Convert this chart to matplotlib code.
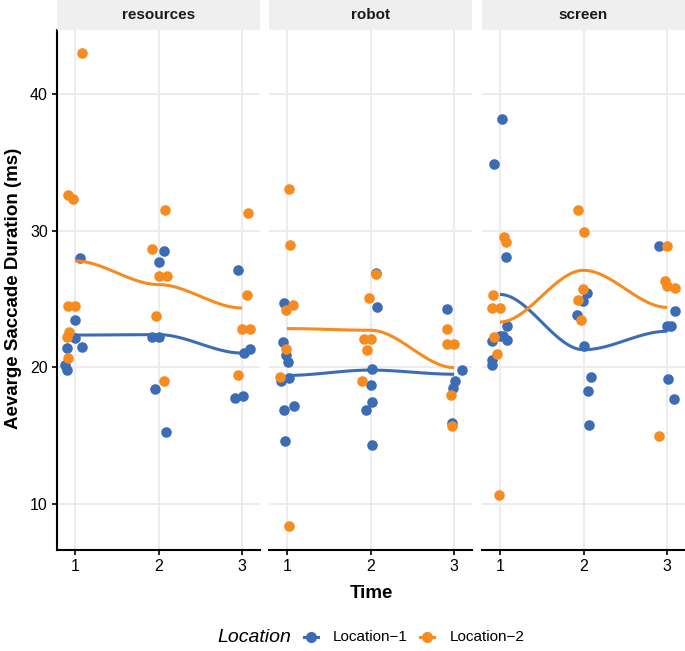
import numpy as np
import matplotlib
matplotlib.use("Agg")
import matplotlib.pyplot as plt
from matplotlib.lines import Line2D
from matplotlib.patches import Rectangle

plt.rcParams['font.family'] = ['Liberation Sans', 'DejaVu Sans']

panels = ["resources", "robot", "screen"]
locations = ["Location\u22121", "Location\u22122"]
colors = ["#3C6DB4", "#F68B1F"]

# jittered time positions and saccade durations
res_t1 = [1.06, 1.00, 1.00, 1.08, 0.90, 0.88, 0.90, 2.07, 2.01, 1.92, 2.00, 1.96, 2.09, 2.95, 3.02, 3.10, 2.92, 3.01]
res_v1 = [28.05, 23.5, 22.15, 21.5, 21.4, 20.2, 19.8, 28.56, 27.7, 22.2, 22.2, 18.44, 15.3, 27.15, 21.05, 21.37, 17.76, 17.93]
res_t2 = [1.08, 0.92, 0.98, 0.92, 1.00, 0.93, 0.90, 0.92, 2.08, 1.92, 2.00, 2.10, 1.97, 2.07, 3.07, 3.06, 3.00, 3.09, 2.95]
res_v2 = [43.0, 32.6, 32.3, 24.5, 24.5, 22.6, 22.2, 20.7, 31.5, 28.7, 26.7, 26.7, 23.8, 19.0, 31.3, 25.3, 22.85, 22.85, 19.45]

rob_t1 = [0.96, 0.95, 0.99, 1.01, 0.93, 1.02, 0.96, 1.08, 0.98, 2.07, 2.08, 2.02, 2.00, 2.02, 1.95, 2.02, 2.91, 3.10, 3.01, 2.99, 2.98]
rob_v1 = [24.7, 21.85, 20.93, 20.4, 18.98, 19.22, 16.85, 17.2, 14.6, 26.95, 24.46, 19.9, 18.68, 17.46, 16.85, 14.34, 24.3, 19.83, 18.98, 18.5, 15.9]
rob_t2 = [1.02, 1.04, 1.07, 0.99, 0.99, 0.92, 1.03, 2.06, 1.98, 1.92, 2.00, 1.96, 1.90, 2.92, 2.91, 3.00, 2.96, 2.98]
rob_v2 = [33.1, 28.93, 24.6, 24.2, 21.37, 19.3, 8.41, 26.85, 25.07, 22.07, 22.07, 21.3, 18.98, 22.85, 21.7, 21.7, 18.0, 15.68]

scr_t1 = [1.03, 0.93, 1.07, 1.08, 1.00, 1.04, 0.91, 1.09, 0.90, 0.91, 2.04, 1.99, 1.92, 2.00, 2.09, 2.05, 2.07, 2.90, 3.10, 3.00, 3.05, 3.01, 3.08]
scr_v1 = [38.2, 34.9, 28.1, 23.05, 22.27, 22.27, 21.9, 22.0, 20.56, 20.2, 25.44, 24.9, 23.85, 21.6, 19.27, 18.24, 15.76, 28.9, 24.15, 23.0, 23.0, 19.17, 17.68]
scr_t2 = [1.05, 1.07, 0.92, 0.91, 1.00, 0.93, 0.96, 0.99, 1.93, 2.00, 1.99, 1.93, 1.97, 3.00, 2.98, 3.00, 3.10, 2.90]
scr_v2 = [29.54, 29.22, 25.27, 24.34, 24.34, 22.22, 21.0, 10.68, 31.54, 29.9, 25.73, 24.95, 23.44, 28.9, 26.3, 25.93, 25.85, 15.0]

series = {
    "resources": [(res_t1, res_v1), (res_t2, res_v2)],
    "robot": [(rob_t1, rob_v1), (rob_t2, rob_v2)],
    "screen": [(scr_t1, scr_v1), (scr_t2, scr_v2)],
}

W, H = 685, 651
fig = plt.figure(figsize=(W / 100, H / 100), dpi=100)

def fx(px):
    return px / W

def fy(py):
    return 1 - py / H

panel_x = [(57, 260), (269, 472), (482, 685)]
top, bot = 30, 550
grid_c = "#EBEBEB"


def smooth(t, v):
    # smooth curve through the mean at each time point
    t = np.asarray(t)
    v = np.asarray(v)
    g = np.round(t)
    m = np.array([v[g == k].mean() for k in (1, 2, 3)])
    xs, ys = [], []
    for k in range(2):
        s = np.linspace(0, 1, 40)
        xs.append(1 + k + s)
        ys.append(m[k] + (m[k + 1] - m[k]) * (3 * s**2 - 2 * s**3))
    return np.concatenate(xs), np.concatenate(ys)


for i, name in enumerate(panels):
    x0, x1 = panel_x[i]
    ax = fig.add_axes([fx(x0), fy(bot), fx(x1 - x0), (bot - top) / H])
    ax.set_xlim(0.785, 3.215)
    ax.set_ylim(6.63, 44.71)
    ax.set_xticks([1, 2, 3])
    ax.set_yticks([10, 20, 30, 40])
    ax.grid(True, color=grid_c, lw=1.3, zorder=0)
    ax.set_axisbelow(True)
    for sp in ["top", "right"]:
        ax.spines[sp].set_visible(False)
    ax.spines["bottom"].set_linewidth(1.5)
    ax.spines["left"].set_linewidth(1.5)
    ax.tick_params(axis="both", length=3.5, width=1.2, labelsize=11.5,
                   colors="black", pad=3)
    if i > 0:
        ax.spines["left"].set_visible(False)
        ax.tick_params(axis="y", length=0, labelleft=False)

    for j, (t, v) in enumerate(series[name]):
        ax.scatter(t, v, s=58, color=colors[j], linewidths=0, zorder=3)
    for j, (t, v) in enumerate(series[name]):
        sx, sy = smooth(t, v)
        ax.plot(sx, sy, color=colors[j], lw=2.2, zorder=4, solid_capstyle="butt")

    # facet strip
    sax = fig.add_axes([fx(x0), fy(top), fx(x1 - x0), top / H])
    sax.set_xlim(0, 1)
    sax.set_ylim(0, 1)
    sax.axis("off")
    sax.add_patch(Rectangle((0, 0), 1, 1, color="#EFEFEF", lw=0))
    sax.text(0.5, 0.5, name, ha="center", va="center", fontsize=11,
             fontweight="bold", color="#1A1A1A")

fig.text(fx(371), fy(593), "Time", ha="center", va="center",
         fontsize=13.5, fontweight="bold")
fig.text(fx(14), fy(288), "Aevarge Saccade Duration (ms)", ha="center",
         va="center", rotation=90, fontsize=13.5, fontweight="bold")

# legend
ly = fy(637)
fig.text(fx(217), ly, "Location", ha="left", va="center", fontsize=14,
         fontstyle="italic")
for j, (mx, lx) in enumerate([(311, 333), (427, 450)]):
    fig.add_artist(Line2D([fx(mx - 7), fx(mx + 7)], [ly, ly], color=colors[j],
                          lw=2.2, transform=fig.transFigure))
    fig.add_artist(Line2D([fx(mx)], [ly], marker="o", markersize=8,
                          color=colors[j], markeredgewidth=0,
                          transform=fig.transFigure))
    fig.text(fx(lx), ly, locations[j], ha="left", va="center", fontsize=11)

fig.savefig("out.png", dpi=100)
